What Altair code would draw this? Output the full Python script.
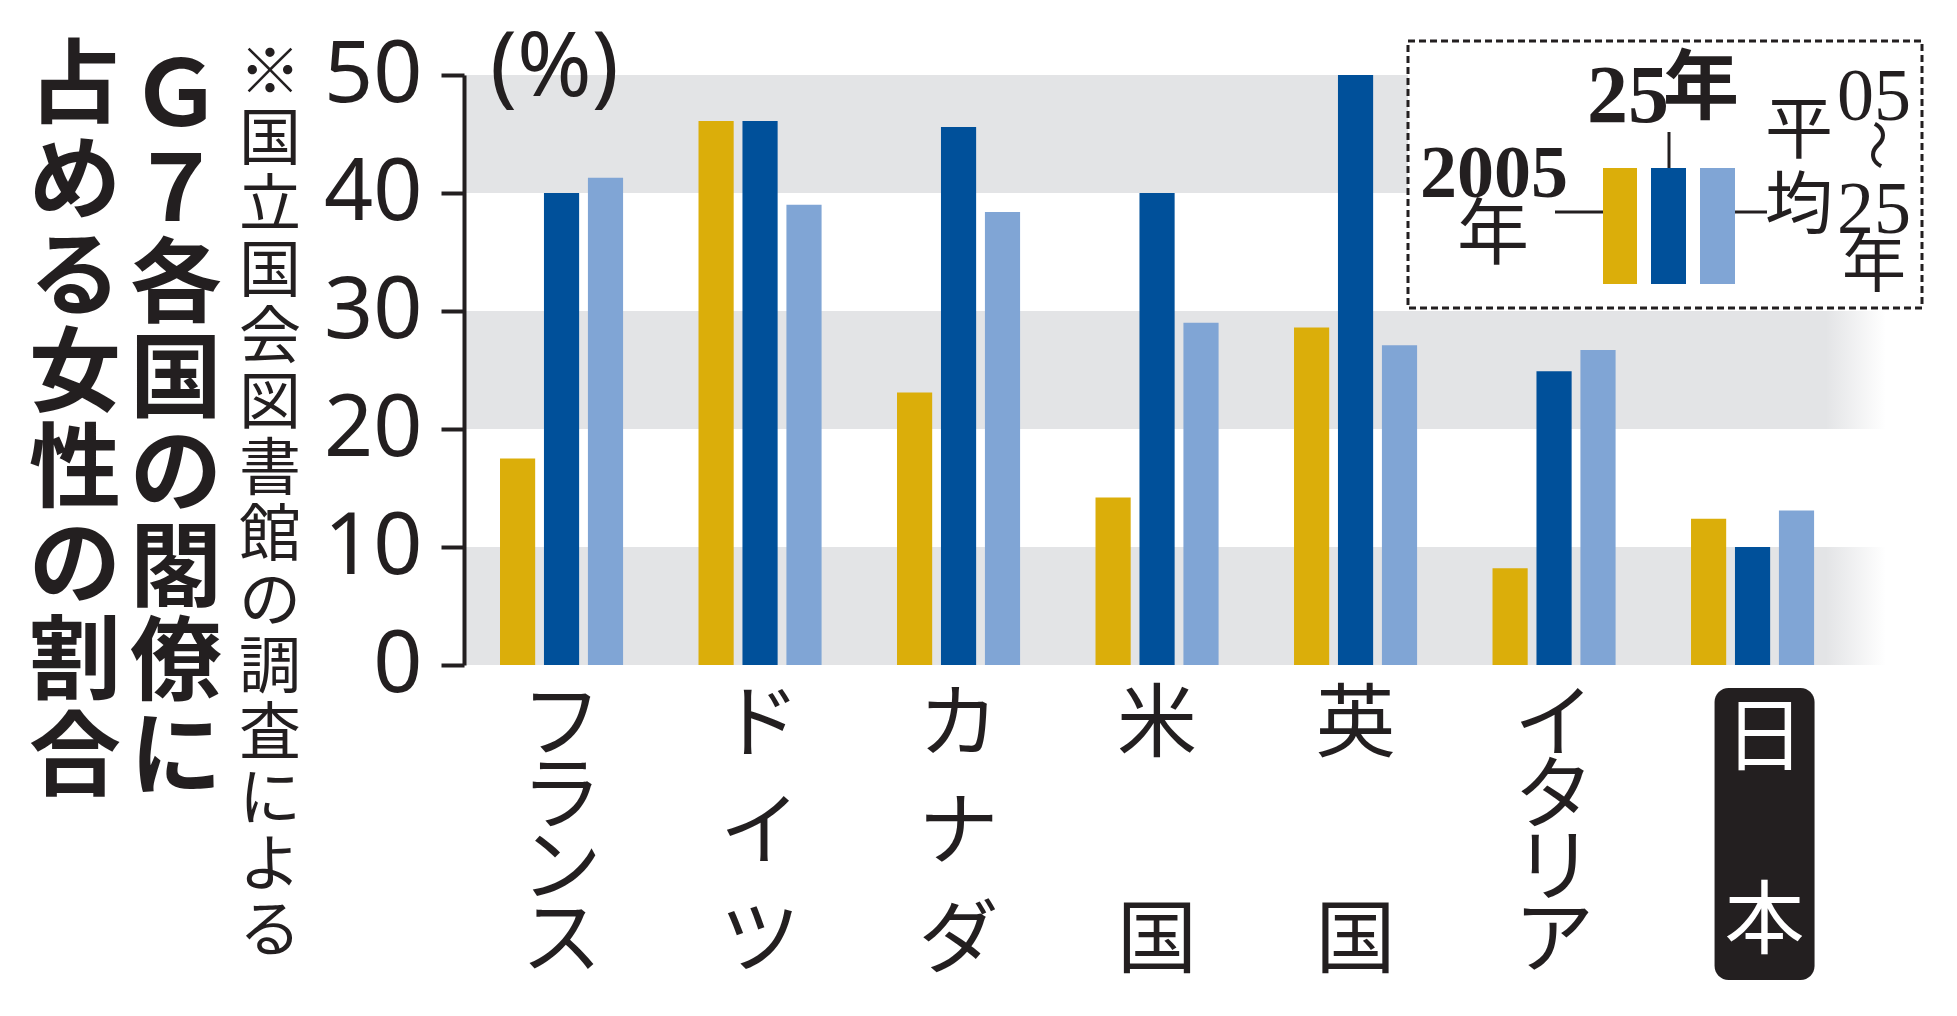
import altair as alt
import pandas as pd

# ---- data ----
countries = ["フランス", "ドイツ", "カナダ", "米国", "英国", "イタリア", "日本"]
v2005 = [17.5, 46.1, 23.1, 14.2, 28.6, 8.2, 12.4]
v2025 = [40.0, 46.1, 45.6, 40.0, 50.0, 24.9, 10.0]
vavg = [41.3, 39.0, 38.4, 29.0, 27.1, 26.7, 13.1]
series = ["2005年", "25年", "05〜25年平均"]
colors = ["#dbae0a", "#00509a", "#80a5d5"]
y_ticks = [0, 10, 20, 30, 40, 50]
band_lo = [0, 20, 40]
band_hi = [10, 30, 50]
title_a = "Ｇ７各国の閣僚に"
title_b = "占める女性の割合"
note = "※国立国会図書館の調査による"
unit = "(%)"

W, H = 1431, 590
INK = "#231f20"
GRAY = "#e3e4e6"
SANS = "Noto Sans CJK JP"
SERIF = "Liberation Serif"

rows = []
for c, a, b, m in zip(countries, v2005, v2025, vavg):
    for s, v in zip(series, (a, b, m)):
        rows.append({"country": c, "series": s, "value": v})
df = pd.DataFrame(rows)
bands = pd.DataFrame({"lo": band_lo, "hi": band_hi})
labels = pd.DataFrame({"country": countries, "n": [len(c) for c in countries]})

xscale = alt.Scale(domain=countries, paddingInner=0.38, paddingOuter=0.2945, align=0.308)
yscale = alt.Scale(domain=[0, 50], nice=False, zero=True)
X = alt.X("country:N", scale=xscale, axis=None, sort=countries)

grad = alt.LinearGradient(
    gradient="linear", x1=0, x2=1, y1=0, y2=0,
    stops=[alt.GradientStop(offset=0, color=GRAY),
           alt.GradientStop(offset=0.953, color=GRAY),
           alt.GradientStop(offset=0.995, color="#ffffff"),
           alt.GradientStop(offset=1, color="#ffffff")])

bg = alt.Chart(bands).mark_rect(fill=grad, strokeWidth=0).encode(
    y=alt.Y("lo:Q", scale=yscale), y2="hi:Q", x=alt.value(0), x2=alt.value(W - 2))

bars = alt.Chart(df).mark_bar().encode(
    x=X,
    xOffset=alt.XOffset("series:N", sort=series,
                        scale=alt.Scale(domain=series, paddingInner=0.2, paddingOuter=0)),
    y=alt.Y("value:Q", scale=yscale,
            axis=alt.Axis(title=None, values=y_ticks, tickSize=23, tickWidth=4,
                          domainWidth=4, domainColor=INK, tickColor=INK,
                          labelFontSize=86, labelFont="Noto Sans", labelColor=INK,
                          labelPadding=19, grid=False, zindex=1, labelFlush=False)),
    color=alt.Color("series:N", scale=alt.Scale(domain=series, range=colors), legend=None),
)

lab_base = alt.Chart(labels).transform_calculate(chars="split(datum.country, '')")

def lab(n, lh):
    return lab_base.transform_filter(f"datum.n == {n} && datum.country != '日本'").mark_text(
        font=SANS, fontSize=80, lineHeight=lh, baseline="top", align="center", color=INK
    ).encode(x=X, y=alt.value(H + 22), text="chars:N")

jp_box = alt.Chart(labels).transform_filter("datum.country == '日本'").mark_bar(
    width=100, cornerRadius=14, color=INK, xOffset=12
).encode(x=X, y=alt.value(H + 23), y2=alt.value(H + 315))

labjp = lab_base.transform_filter("datum.country == '日本'").mark_text(
    font=SANS, fontSize=80, lineHeight=183, baseline="top", align="center",
    color="#ffffff", dx=12
).encode(x=X, y=alt.value(H + 36), text="chars:N")

lab4 = lab(4, 72)
lab3 = lab(3, 108)
lab2 = lab(2, 216)

one = alt.Chart(labels).transform_filter("datum.country == 'フランス'")

def txt(t, x, y, size, font=SANS, weight="normal", lh=None, align="center", baseline="top", angle=0):
    kw = dict(text=t, font=font, fontSize=size, fontWeight=weight, align=align,
              baseline=baseline, color=INK)
    if lh is not None:
        kw["lineHeight"] = lh
    if angle:
        kw["angle"] = angle
    return one.mark_text(**kw).encode(x=alt.value(x), y=alt.value(y))

col_a = txt(list(title_a), -288, -22, 92, weight="bold", lh=94.5)
col_b = txt(list(title_b), -389, -32, 92, weight="bold", lh=96)
col_note = txt(list(note), -194, -30, 62, lh=66)
unit_t = txt(unit, 26, -50, 90, font="Noto Sans", align="left")

box = one.mark_rect(fill="#ffffff", stroke=INK, strokeWidth=3, strokeDash=[7, 4]).encode(
    x=alt.value(944), x2=alt.value(1458), y=alt.value(-34), y2=alt.value(233))

sw = []
for i, (x0, x1) in enumerate([(1139, 1173), (1187, 1222), (1236, 1271)]):
    sw.append(one.mark_rect(fill=colors[i]).encode(
        x=alt.value(x0), x2=alt.value(x1), y=alt.value(93), y2=alt.value(209)))

r1 = one.mark_rule(color=INK, strokeWidth=3).encode(
    x=alt.value(1091), x2=alt.value(1139), y=alt.value(137))
r2 = one.mark_rule(color=INK, strokeWidth=3).encode(
    x=alt.value(1205), y=alt.value(57), y2=alt.value(93))
r3 = one.mark_rule(color=INK, strokeWidth=3).encode(
    x=alt.value(1271), x2=alt.value(1303), y=alt.value(137))

t2005 = txt("2005", 1030, 122, 74, font=SERIF, weight="bold", baseline="alphabetic")
tnen1 = txt("年", 1029, 126, 72, font=SANS)
t25 = txt("25", 1164, 47, 82, font=SERIF, weight="bold", baseline="alphabetic")
tnen25 = txt("年", 1237, -22, 76, font=SANS, weight="bold")
theikin = txt(["平", "均"], 1335, 24, 68, font=SANS, lh=75)
t05 = txt("05", 1410, 45, 74, font=SERIF, baseline="alphabetic")
tnami = txt("〜", 1410, 70, 50, font=SANS, baseline="middle", angle=90)
t25b = txt("25", 1410, 158, 74, font=SERIF, baseline="alphabetic")
tnen2 = txt("年", 1410, 160, 64, font=SANS)

chart = alt.layer(
    bg, bars, jp_box, lab4, lab3, lab2, labjp,
    col_a, col_b, col_note, unit_t,
    box, *sw, r1, r2, r3, t2005, tnen1, t25, tnen25, theikin, t05, tnami, t25b, tnen2
).properties(
    width=W, height=H,
    autosize=alt.AutoSizeParams(type="none"),
    padding={"left": 456, "top": 67, "right": 40, "bottom": 330},
    view=alt.ViewBackground(stroke="transparent", strokeWidth=0),
).configure_view(strokeWidth=0, stroke="transparent").configure(background="#ffffff")

chart.save("out.html", embed_options={"renderer": "svg", "actions": False})
